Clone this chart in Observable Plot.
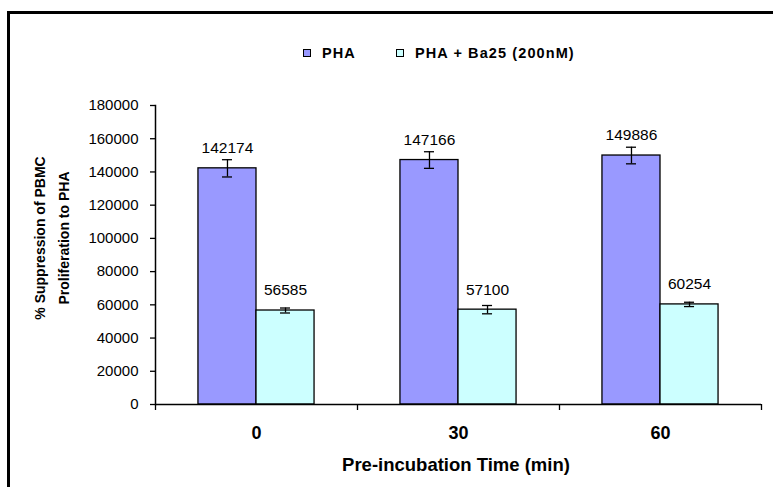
<!DOCTYPE html>
<html>
<head>
<meta charset="utf-8">
<script src="https://cdn.jsdelivr.net/npm/d3@7"></script>
<script src="https://cdn.jsdelivr.net/npm/@observablehq/plot@0.6"></script>
<style>
  html, body { margin: 0; padding: 0; background: #fff; }
  #wrap { position: relative; width: 773px; height: 487px; overflow: hidden; background: #fff;
          font-family: "Liberation Sans", Arial, sans-serif; color: #000; }
  #frame { position: absolute; left: 7px; top: 11px; width: 900px; height: 600px;
           border: 3px solid #000; box-sizing: border-box; }
  #legend { position: absolute; left: 303px; top: 45px; display: flex; align-items: center;
            font-weight: bold; font-size: 14.5px; letter-spacing: 1.1px; white-space: nowrap; }
  #legend .item { display: flex; align-items: center; margin-right: 40px; }
  #legend .sw { width: 6px; height: 6px; border: 1px solid #000; margin-right: 11px; }
  #chart { position: absolute; left: 0; top: 0; }
  #ylab { position: absolute; left: -98px; top: 214px; width: 300px; height: 48px;
          transform: rotate(-90deg); text-align: center; font-weight: bold; font-size: 14px;
          line-height: 24px; }
  #xlab { position: absolute; left: 156px; top: 454px; width: 600px; text-align: center;
          font-weight: bold; font-size: 18.5px; }
  [aria-label="fx-axis tick label"] text { font-weight: bold; }
</style>
</head>
<body>
<div id="wrap">
  <div id="frame"></div>
  <div id="legend"></div>
  <div id="chart"></div>
  <div id="ylab">% Suppression of PBMC<br>Proliferation to PHA</div>
  <div id="xlab">Pre-incubation Time (min)</div>
</div>
<script>
// Pre-incubation times (minutes) and the two treatments
const times = ["0", "30", "60"];
const series = ["PHA", "PHA + Ba25 (200nM)"];
const colors = ["#9999FF", "#CCFFFF"];

// Mean responses and error bar half-widths
const phaValues = [142174, 147166, 149886];
const phaErrors = [5200, 5000, 5000];
const ba25Values = [56585, 57100, 60254];
const ba25Errors = [1500, 2500, 1300];

// y-axis ticks
const yTicks = [0, 20000, 40000, 60000, 80000, 100000, 120000, 140000, 160000, 180000];

const rows = [];
times.forEach((t, i) => {
  rows.push({time: t, series: series[0], value: phaValues[i], err: phaErrors[i]});
  rows.push({time: t, series: series[1], value: ba25Values[i], err: ba25Errors[i]});
});
rows.forEach(d => { d.lo = d.value - d.err; d.hi = d.value + d.err; });

// Legend
const legend = document.getElementById("legend");
series.forEach((s, i) => {
  const item = document.createElement("div");
  item.className = "item";
  const sw = document.createElement("div");
  sw.className = "sw";
  sw.style.background = colors[i];
  const label = document.createElement("span");
  label.textContent = s;
  item.append(sw, label);
  legend.append(item);
});

const W = 773, H = 487;
const mL = 155, mR = 12, mT = 105, mB = 83;
const band = (W - mL - mR) / times.length;

const chart = Plot.plot({
  width: W,
  height: H,
  marginLeft: mL,
  marginRight: mR,
  marginTop: mT,
  marginBottom: mB,
  style: {fontFamily: "'Liberation Sans', Arial, sans-serif", color: "#000", background: "transparent", overflow: "visible"},
  fx: {domain: times, paddingInner: 0, paddingOuter: 0, round: false, axis: null, label: null},
  x: {domain: series, paddingInner: 0, paddingOuter: 0.74, round: false, axis: null},
  y: {domain: [0, 180000], axis: null},
  color: {domain: series, range: colors},
  marks: [
    Plot.barY(rows, {fx: "time", x: "series", y: "value", fill: "series", stroke: "#000", strokeWidth: 1.3}),
    Plot.ruleX(rows, {fx: "time", x: "series", y1: "lo", y2: "hi", stroke: "#000", strokeWidth: 1.3}),
    Plot.tickY(rows, {fx: "time", x: "series", y: "lo", insetLeft: 24, insetRight: 24, stroke: "#000", strokeWidth: 1.3}),
    Plot.tickY(rows, {fx: "time", x: "series", y: "hi", insetLeft: 24, insetRight: 24, stroke: "#000", strokeWidth: 1.3}),
    Plot.text(rows, {fx: "time", x: "series", y: "value", text: d => String(d.value), dy: -20, fontSize: 15.5, fill: "#000"}),
    Plot.ruleY([0], {stroke: "#000", strokeWidth: 1.5}),
    Plot.frame({anchor: "left", facetAnchor: "left", stroke: "#000", strokeWidth: 1.5}),
    Plot.axisY({ticks: yTicks, tickFormat: d3.format("d"), tickSize: 5, tickPadding: 12, fontSize: 15, stroke: "#000", strokeWidth: 1.3}),
    Plot.axisFx({anchor: "bottom", text: null, tickSize: 6, dx: -band / 2, stroke: "#000", strokeWidth: 1.3}),
    Plot.axisFx({anchor: "bottom", ticks: [times[times.length - 1]], text: null, tickSize: 6, dx: band / 2, stroke: "#000", strokeWidth: 1.3}),
    Plot.axisFx({anchor: "bottom", tickSize: 0, tickPadding: 22, fontSize: 18, fill: "#000"})
  ]
});
document.getElementById("chart").append(chart);
</script>
</body>
</html>
